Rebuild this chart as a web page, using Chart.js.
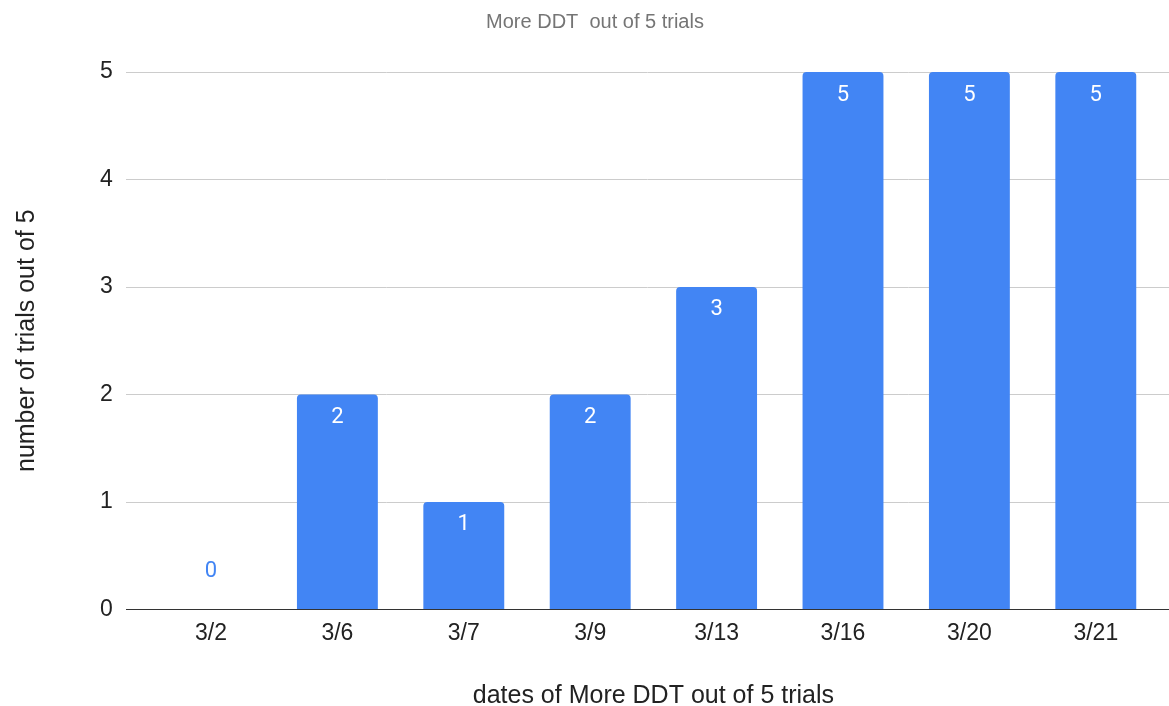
<!DOCTYPE html>
<html>
<head>
<meta charset="utf-8">
<script src="https://cdn.jsdelivr.net/npm/chart.js@4/dist/chart.umd.min.js"></script>
<style>
  html, body { margin: 0; padding: 0; background: #fff; }
  #wrap { width: 1169px; height: 706px; }
</style>
</head>
<body>
<div id="wrap"><canvas id="c" width="1169" height="706"></canvas></div>
<script>
// Trial dates and how many of the 5 trials showed more DDT
const dates = ['3/2', '3/6', '3/7', '3/9', '3/13', '3/16', '3/20', '3/21'];
const trialsWithMoreDDT = [0, 2, 1, 2, 3, 5, 5, 5];
const yTicks = [0, 1, 2, 3, 4, 5];
const chartTitle = 'More DDT  out of 5 trials';

const BAR_BLUE = '#4285f4';
const TEXT_FONT = '"Liberation Sans", Arial, sans-serif';

// Chart heading, drawn slightly left of the plot centre
const headingPlugin = {
  id: 'heading',
  afterDraw(chart) {
    const { ctx } = chart;
    ctx.save();
    ctx.font = '20px ' + TEXT_FONT;
    ctx.fillStyle = '#757575';
    ctx.textAlign = 'center';
    ctx.textBaseline = 'middle';
    ctx.fillText(chartTitle, 595, 22);
    ctx.restore();
  }
};

// Horizontal grid lines span slightly wider than the category bands
const gridPlugin = {
  id: 'wideGrid',
  beforeDatasetsDraw(chart) {
    const { ctx, scales: { y } } = chart;
    ctx.save();
    ctx.strokeStyle = '#cccccc';
    ctx.lineWidth = 1;
    y.ticks.forEach(t => {
      if (t.value === 0) return;
      const py = Math.round(y.getPixelForValue(t.value)) + 0.5;
      ctx.beginPath();
      ctx.moveTo(126, py);
      ctx.lineTo(chart.width, py);
      ctx.stroke();
    });
    ctx.restore();
  },
  afterDatasetsDraw(chart) {
    const { ctx, scales: { y } } = chart;
    const py = Math.round(y.getPixelForValue(0)) + 0.5;
    ctx.save();
    ctx.strokeStyle = '#333333';
    ctx.lineWidth = 1.2;
    ctx.beginPath();
    ctx.moveTo(126, py);
    ctx.lineTo(chart.width, py);
    ctx.stroke();
    ctx.restore();
  }
};

// Value labels: white inside the bar top, blue above the baseline for zero
const valueLabels = {
  id: 'valueLabels',
  afterDatasetsDraw(chart) {
    const { ctx } = chart;
    const meta = chart.getDatasetMeta(0);
    const values = chart.data.datasets[0].data;
    ctx.save();
    ctx.font = '22px Roboto, "Liberation Sans", sans-serif';
    ctx.textAlign = 'center';
    ctx.textBaseline = 'middle';
    meta.data.forEach((bar, i) => {
      const v = values[i];
      if (v > 0) {
        ctx.fillStyle = '#ffffff';
        ctx.fillText(String(v), bar.x, bar.y + 23);
      } else {
        ctx.fillStyle = BAR_BLUE;
        ctx.fillText(String(v), bar.x, bar.y - 38);
      }
    });
    ctx.restore();
  }
};

new Chart(document.getElementById('c'), {
  type: 'bar',
  data: {
    labels: dates,
    datasets: [{
      label: chartTitle,
      data: trialsWithMoreDDT,
      backgroundColor: BAR_BLUE,
      borderRadius: { topLeft: 4, topRight: 4, bottomLeft: 0, bottomRight: 0 },
      borderSkipped: 'start',
      barPercentage: 0.64,
      categoryPercentage: 1.0
    }]
  },
  options: {
    responsive: false,
    animation: false,
    devicePixelRatio: 1,
    layout: { padding: { left: 0, right: 10, top: 72, bottom: 0 } },
    plugins: {
      legend: { display: false },
      tooltip: { enabled: false },
      title: { display: false }
    },
    scales: {
      x: {
        grid: { display: false, drawTicks: false },
        border: { display: false },
        ticks: {
          color: '#222222',
          padding: 10,
          font: { family: TEXT_FONT, size: 23, lineHeight: 1.2 }
        },
        title: {
          display: true,
          text: 'dates of More DDT out of 5 trials',
          color: '#222222',
          font: { family: TEXT_FONT, size: 25, lineHeight: 0.8 },
          padding: { top: 29, bottom: 0 }
        }
      },
      y: {
        min: 0,
        max: 5,
        afterBuildTicks(scale) {
          scale.ticks = yTicks.map(v => ({ value: v }));
        },
        grid: { display: false, drawTicks: false },
        border: { display: false },
        ticks: {
          color: '#222222',
          padding: 35,
          font: { family: TEXT_FONT, size: 23 }
        },
        title: {
          display: true,
          text: 'number of trials out of 5',
          color: '#222222',
          font: { family: TEXT_FONT, size: 25, lineHeight: 1 },
          padding: { top: 15, bottom: 25 }
        }
      }
    }
  },
  plugins: [gridPlugin, valueLabels, headingPlugin]
});
</script>
</body>
</html>
